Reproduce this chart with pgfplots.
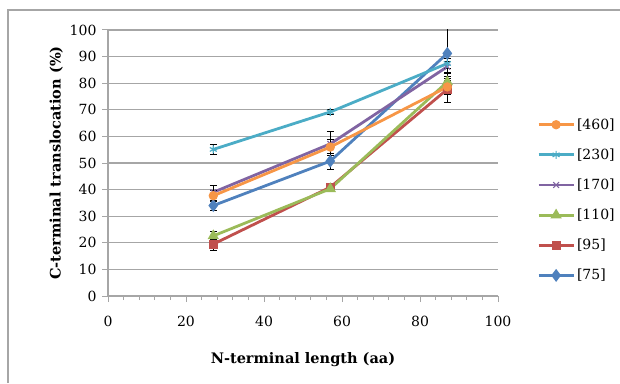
\documentclass[border=0pt]{standalone}
\usepackage{fontspec}
\setmainfont{DejaVu Serif}
\usepackage{pgfplots}
\pgfplotsset{compat=1.18}
\definecolor{cOr}{HTML}{F79646}
\definecolor{cCy}{HTML}{4BACC6}
\definecolor{cPu}{HTML}{8064A2}
\definecolor{cGr}{HTML}{9BBB59}
\definecolor{cRe}{HTML}{C0504D}
\definecolor{cBl}{HTML}{4F81BD}
\definecolor{gridc}{HTML}{A6A6A6}
\begin{document}
\begin{tikzpicture}[x=1pt,y=1pt]
\useasboundingbox (0,0) rectangle (620,383);
\draw[gridc,line width=1.2pt] (8,0) -- (8,373) -- (620,373);
\begin{axis}[
  at={(108pt,87pt)}, anchor=origin,
  scale only axis, width=390pt, height=266pt,
  xmin=0, xmax=100, ymin=0, ymax=100,
  axis x line=bottom, axis y line=left,
  axis line style={gridc, line width=1.2pt, -},
  xtick={0,20,...,100}, minor x tick num=4,
  ytick={0,10,...,100},
  tick align=outside,
  major tick length=6pt, minor tick length=4pt,
  tick style={gridc, line width=1pt},
  xtick pos=bottom, ytick pos=left,
  ymajorgrids, major grid style={gridc, line width=1.2pt},
  every tick label/.append style={font=\fontsize{14}{16}\selectfont},
  /pgf/number format/assume math mode=true,
  xticklabel style={yshift=-11pt},
  yticklabel style={xshift=-2pt},
  xlabel={\bfseries N-terminal length (aa)},
  ylabel={\bfseries C-terminal translocation (\%)},
  label style={font=\fontsize{14.5}{16}\selectfont},
  xlabel style={yshift=-18pt},
  ylabel style={yshift=0pt},
  legend style={at={(1.1,0.675)}, anchor=north west, draw=none, fill=none,
    font=\fontsize{14}{16}\selectfont, row sep=14pt, inner sep=0pt,
    /tikz/every even column/.append style={column sep=3pt}},
  legend cell align=left,
  legend image code/.code={%
    \draw[mark repeat=2,mark phase=2] plot coordinates {(0pt,0pt) (17.5pt,0pt) (35pt,0pt)};},
  legend image post style={sharp plot},
  reverse legend,
  every axis plot/.append style={line width=2.8pt, mark size=3.2pt},
  error bars/y dir=both, error bars/y explicit,
  error bars/error bar style={black, line width=0.9pt},
  error bars/error mark options={rotate=90, black, mark size=3.5pt, line width=0.9pt},
  clip=true,
]
\addplot[cBl, mark=diamond*, mark size=4.2pt] coordinates {(27,34) +- (0,2) (57,50.7) +- (0,3) (87,91.2) +- (0,10)};
\addlegendentry{[75]}
\addplot[cRe, mark=square*] coordinates {(27,19.5) +- (0,2.5) (57,40.9) +- (0,1) (87,77.7) +- (0,5)};
\addlegendentry{[95]}
\addplot[cGr, mark=triangle*, mark size=3.8pt] coordinates {(27,22.6) +- (0,1.5) (57,40.3) +- (0,1) (87,80.5) +- (0,3)};
\addlegendentry{[110]}
\addplot[cPu, mark=x, mark options={line width=1.2pt}, mark size=4pt] coordinates {(27,39) +- (0,2.5) (57,57.2) +- (0,4.5) (87,86.2) +- (0,2)};
\addlegendentry{[170]}
\addplot[cCy, mark=asterisk, mark options={line width=1.2pt}, mark size=4pt] coordinates {(27,55.1) +- (0,2) (57,69.2) +- (0,1) (87,87.4) +- (0,2)};
\addlegendentry{[230]}
\addplot[cOr, mark=*] coordinates {(27,37.7) +- (0,2) (57,56) +- (0,3) (87,78.6) +- (0,3)};
\addlegendentry{[460]}
\end{axis}
\end{tikzpicture}
\end{document}
